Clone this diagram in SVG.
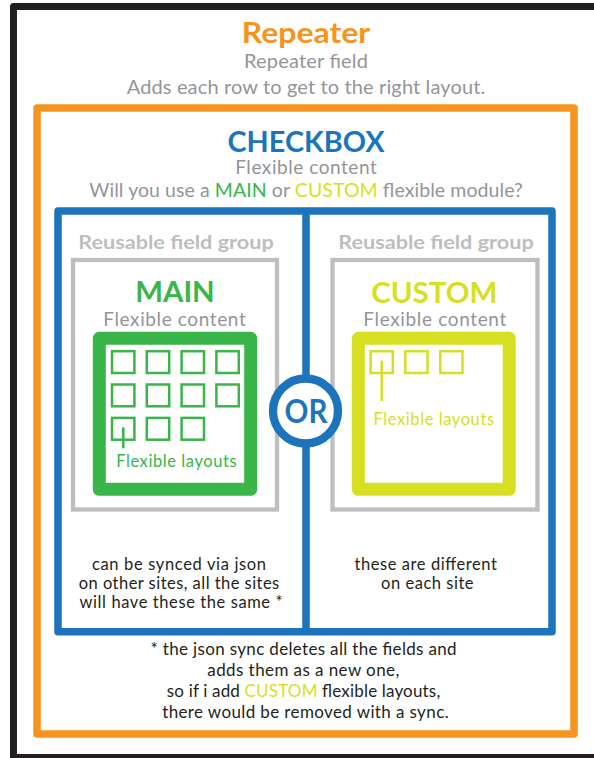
<svg xmlns="http://www.w3.org/2000/svg" width="594" height="758" viewBox="0 0 594 758">
<style>
  text { font-family: Lato, "Open Sans", "Liberation Sans", sans-serif; text-anchor: middle; }
  .b { font-weight: bold; }
  .frame { fill: none; stroke-linejoin: round; }
  .gray { fill: #939598; }
  .dark { fill: #231f20; }
  .lg { fill: #bcbec0; }
  .og { fill: #f7941d; }
  .bl { fill: #1c75bc; }
  .gr { fill: #39b54a; }
  .ye { fill: #d7df23; }
  .gsq { fill: none; stroke: #39b54a; stroke-width: 2.5; }
  .ysq { fill: none; stroke: #d7df23; stroke-width: 2.5; }
</style>
<rect width="594" height="758" fill="#ffffff"/>
<g id="outer-frame">
  <rect class="frame" x="13.5" y="6.5" width="600" height="751" stroke="#231f20" stroke-width="7"/>
</g>
<g id="repeater">
  <rect class="frame" x="37" y="108" width="537" height="626" stroke="#f7941d" stroke-width="7.5"/>
  <text class="b og" x="306" y="43.3" font-size="29" textLength="128.5" lengthAdjust="spacingAndGlyphs">Repeater</text>
  <text class="gray" x="306" y="67.7" font-size="20" textLength="124">Repeater field</text>
  <text class="gray" x="306" y="94.3" font-size="20" textLength="358.5">Adds each row to get to the right layout.</text>
</g>
<g id="checkbox">
  <rect class="frame" x="58" y="211" width="494" height="420.7" stroke="#1c75bc" stroke-width="7.5"/>
  <text class="b bl" x="306" y="151.7" font-size="29" textLength="157" lengthAdjust="spacingAndGlyphs">CHECKBOX</text>
  <text class="gray" x="306" y="173.6" font-size="19" textLength="141.5">Flexible content</text>
  <text class="gray" x="306" y="196.7" font-size="19.5" textLength="433.5">Will you use a <tspan class="gr">MAIN</tspan> or <tspan class="ye">CUSTOM</tspan> flexible module?</text>
</g>
<g id="main-group">
  <text class="b lg" x="176" y="249.3" font-size="19" textLength="195.5" lengthAdjust="spacingAndGlyphs">Reusable field group</text>
  <rect x="73" y="260" width="204" height="249.5" fill="none" stroke="#bcbec0" stroke-width="4.3"/>
  <text class="b gr" x="175" y="302.3" font-size="29" textLength="79.5" lengthAdjust="spacingAndGlyphs">MAIN</text>
  <text class="gray" x="174.5" y="326" font-size="19" textLength="142.5">Flexible content</text>
  <rect class="frame" x="99.3" y="338.3" width="151.4" height="151" stroke="#39b54a" stroke-width="13"/>
  <g id="main-layouts">
    <rect class="gsq" x="112" y="351.2" width="22.4" height="21.8"/>
    <rect class="gsq" x="146.8" y="351.2" width="22.4" height="21.8"/>
    <rect class="gsq" x="181.6" y="351.2" width="22.4" height="21.8"/>
    <rect class="gsq" x="216.4" y="351.2" width="22.4" height="21.8"/>
    <rect class="gsq" x="112" y="384.5" width="22.4" height="21.8"/>
    <rect class="gsq" x="146.8" y="384.5" width="22.4" height="21.8"/>
    <rect class="gsq" x="181.6" y="384.5" width="22.4" height="21.8"/>
    <rect class="gsq" x="216.4" y="384.5" width="22.4" height="21.8"/>
    <rect class="gsq" x="112" y="417.9" width="22.4" height="21.8"/>
    <rect class="gsq" x="146.8" y="417.9" width="22.4" height="21.8"/>
    <rect class="gsq" x="181.6" y="417.9" width="22.4" height="21.8"/>
  </g>
  <text class="gr" x="176.4" y="466.7" font-size="16.5" textLength="120.5">Flexible layouts</text>
  <text class="dark" x="179" y="570" font-size="16.5" textLength="174">can be synced via json</text>
  <text class="dark" x="179" y="589.3" font-size="16.5" textLength="200.5">on other sites, all the sites</text>
  <text class="dark" x="181" y="608.3" font-size="16.5" textLength="203">will have these the same *</text>
</g>
<g id="custom-group">
  <text class="b lg" x="436" y="249.3" font-size="19" textLength="195.5" lengthAdjust="spacingAndGlyphs">Reusable field group</text>
  <rect x="332.5" y="260" width="205" height="249.5" fill="none" stroke="#bcbec0" stroke-width="4.3"/>
  <text class="b ye" x="434.3" y="303" font-size="29" textLength="126" lengthAdjust="spacingAndGlyphs">CUSTOM</text>
  <text class="gray" x="434.8" y="326" font-size="19" textLength="143">Flexible content</text>
  <rect class="frame" x="358.3" y="338.3" width="150.9" height="151" stroke="#d7df23" stroke-width="13"/>
  <g id="custom-layouts">
    <rect class="ysq" x="370.6" y="351.2" width="22.2" height="21.8"/>
    <rect class="ysq" x="405.3" y="351.2" width="22.2" height="21.8"/>
    <rect class="ysq" x="440.3" y="351.2" width="22.2" height="21.8"/>
  </g>
  <text class="ye" x="433.8" y="425" font-size="16.5" textLength="120.5">Flexible layouts</text>
  <text class="dark" x="425.7" y="570" font-size="16.5" textLength="142.5">these are different</text>
  <text class="dark" x="427.3" y="589.3" font-size="16.5" textLength="92.5">on each site</text>
</g>
<g id="connectors">
  <line x1="306" y1="211" x2="306" y2="631.7" stroke="#1c75bc" stroke-width="7.5"/>
  <line x1="123.3" y1="427.3" x2="123.3" y2="448.3" stroke="#39b54a" stroke-width="2.5"/>
  <line x1="381.7" y1="360.7" x2="381.7" y2="401" stroke="#d7df23" stroke-width="2.5"/>
</g>
<g id="or-node">
  <circle cx="305.5" cy="411" r="32.5" fill="#ffffff" stroke="#1c75bc" stroke-width="8.3"/>
  <text class="b bl" x="306" y="423.3" font-size="33" textLength="43" lengthAdjust="spacingAndGlyphs">OR</text>
</g>
<g id="footnote">
  <text class="dark" x="303.6" y="655" font-size="17" textLength="306">* the json sync deletes all the fields and</text>
  <text class="dark" x="303.3" y="675.7" font-size="17" textLength="192">adds them as a new one,</text>
  <text class="dark" x="303.5" y="696.7" font-size="17" textLength="273.5">so if i add <tspan class="ye">CUSTOM</tspan> flexible layouts,</text>
  <text class="dark" x="305.4" y="718.3" font-size="17" textLength="286.5">there would be removed with a sync.</text>
</g>
</svg>
